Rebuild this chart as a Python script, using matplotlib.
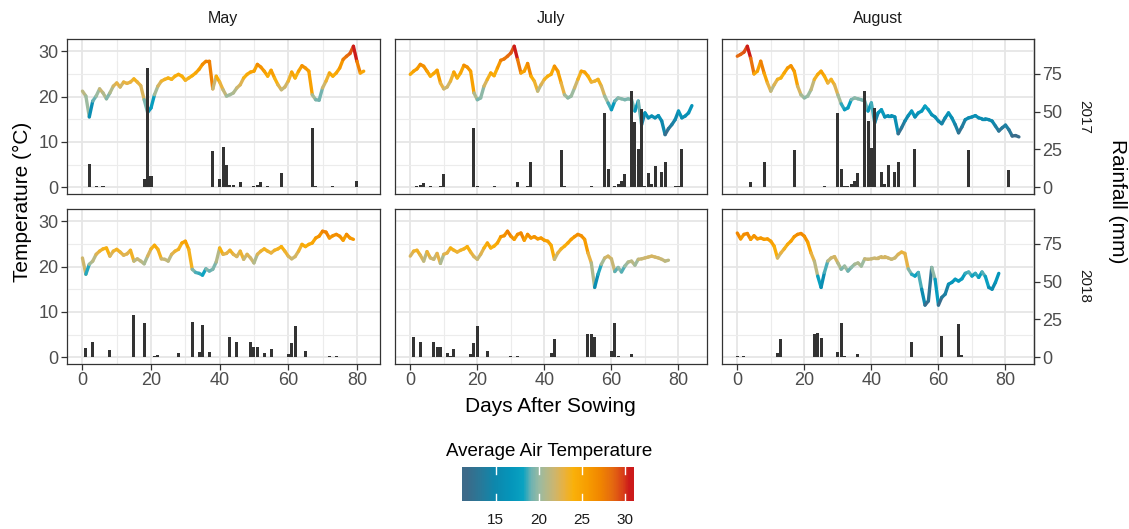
import numpy as np
import matplotlib
matplotlib.use("Agg")
import matplotlib.pyplot as plt
from matplotlib.collections import LineCollection
from matplotlib.colors import LinearSegmentedColormap, Normalize

plt.rcParams["font.family"] = ["Liberation Sans", "DejaVu Sans"]

months = ["May", "July", "August"]
years = ["2017", "2018"]

# daily average air temperature (deg C), day 0 = sowing
temp_may_2017 = [21.2, 20.1, 15.5, 19.0, 20.1, 21.7, 20.8, 19.5, 20.8, 22.3,
                 23.0, 22.1, 23.2, 22.9, 23.2, 23.9, 23.2, 22.4, 19.3, 16.5,
                 17.5, 20.4, 22.3, 23.4, 23.8, 24.1, 23.8, 24.5, 24.9, 24.5,
                 23.6, 24.1, 24.6, 25.2, 26.0, 27.1, 27.8, 27.8, 21.7, 24.5,
                 23.2, 21.5, 20.1, 20.4, 20.8, 21.9, 22.6, 24.1, 24.9, 25.4,
                 25.6, 27.1, 26.5, 25.6, 24.5, 25.8, 24.1, 22.6, 21.5, 22.1,
                 23.4, 25.4, 24.1, 25.6, 26.8, 26.3, 25.6, 20.4, 19.3, 19.2,
                 21.9, 23.4, 25.2, 24.5, 25.2, 26.3, 28.2, 28.9, 29.5, 31.1,
                 27.8, 25.2, 25.6]
temp_jul_2017 = [24.9, 25.6, 26.1, 27.1, 26.7, 25.6, 24.5, 25.1, 25.8, 23.0,
                 21.7, 22.1, 23.4, 25.4, 24.1, 25.2, 26.9, 26.5, 25.6, 20.8,
                 19.3, 19.7, 22.3, 23.8, 25.2, 24.6, 26.3, 28.0, 28.3, 28.9,
                 29.6, 31.1, 28.2, 25.2, 25.6, 27.3, 24.5, 23.4, 21.2, 22.6,
                 23.8, 24.5, 24.9, 26.7, 25.6, 23.0, 20.4, 19.7, 20.1, 21.9,
                 23.8, 25.6, 25.4, 24.5, 23.2, 23.4, 23.8, 22.3, 20.1, 18.6,
                 17.1, 19.0, 19.7, 19.5, 19.3, 19.5, 19.3, 16.8, 19.0, 13.8,
                 16.4, 15.3, 15.7, 15.3, 15.8, 14.6, 11.6, 12.9, 13.8, 14.9,
                 16.8, 15.3, 15.7, 16.4, 18.0]
temp_aug_2017 = [28.9, 29.3, 29.8, 31.1, 28.5, 25.0, 25.6, 27.8, 25.2, 23.0,
                 21.2, 22.6, 23.8, 24.1, 25.2, 26.3, 26.8, 25.6, 22.3, 20.4,
                 19.7, 20.1, 21.5, 23.8, 24.9, 25.6, 24.5, 23.0, 23.8, 22.6,
                 20.4, 18.4, 17.1, 17.5, 19.3, 19.7, 19.5, 19.3, 19.0, 16.8,
                 18.6, 14.2, 16.4, 17.1, 15.5, 15.8, 15.8, 15.5, 11.8, 13.1,
                 14.6, 15.8, 16.8, 15.5, 16.4, 16.8, 17.9, 17.1, 16.0, 15.5,
                 14.6, 14.0, 15.3, 16.4, 15.3, 13.8, 12.0, 13.3, 14.9, 15.3,
                 15.5, 15.8, 15.3, 15.1, 15.1, 14.9, 14.6, 13.5, 12.4, 13.1,
                 13.7, 12.7, 11.3, 11.4, 11.1]
temp_may_2018 = [21.9, 18.3, 20.5, 21.2, 22.7, 23.4, 23.9, 24.1, 22.3, 23.4,
                 23.8, 23.2, 22.5, 22.8, 23.6, 21.2, 21.7, 21.2, 20.6, 22.3,
                 23.9, 24.7, 23.8, 21.7, 21.6, 21.2, 22.7, 23.4, 23.8, 25.2,
                 25.6, 23.8, 19.4, 18.7, 18.5, 18.1, 19.5, 19.0, 19.4, 21.0,
                 24.1, 22.7, 22.9, 23.6, 22.7, 22.2, 23.4, 21.6, 22.7, 21.9,
                 20.8, 22.7, 23.4, 23.9, 23.4, 23.0, 23.6, 23.9, 24.4, 23.4,
                 22.3, 21.7, 22.2, 23.4, 24.9, 24.4, 24.9, 25.2, 26.3, 26.7,
                 27.8, 27.6, 26.3, 26.8, 27.1, 26.7, 25.8, 27.1, 26.3, 26.0]
temp_jul_2018 = [22.3, 23.4, 23.6, 22.5, 21.2, 23.3, 21.9, 21.6, 22.9, 20.7,
                 22.7, 23.0, 24.1, 23.6, 23.2, 23.6, 23.9, 24.4, 23.2, 22.2,
                 21.6, 22.7, 24.1, 25.2, 24.1, 24.5, 25.2, 26.6, 26.8, 27.8,
                 26.7, 26.0, 27.1, 27.4, 25.8, 27.1, 26.3, 26.6, 26.1, 26.3,
                 25.8, 25.6, 24.7, 21.6, 23.0, 23.9, 24.5, 25.2, 26.0, 26.6,
                 27.1, 26.8, 26.0, 23.0, 20.8, 15.4, 18.3, 20.5, 21.9, 22.3,
                 21.7, 18.9, 19.8, 18.8, 20.1, 21.0, 21.2, 20.3, 21.6, 21.7,
                 21.9, 22.1, 22.3, 22.1, 21.9, 21.6, 21.2, 21.4]
temp_aug_2018 = [27.4, 26.1, 27.1, 27.3, 26.0, 26.8, 26.1, 26.3, 26.0, 26.1,
                 25.6, 24.5, 21.9, 23.0, 23.9, 24.9, 25.6, 26.6, 27.1, 27.3,
                 26.7, 25.4, 23.0, 21.2, 17.9, 15.4, 18.7, 21.2, 21.9, 22.2,
                 20.8, 19.4, 20.1, 19.0, 19.8, 20.5, 20.8, 20.1, 21.7, 21.6,
                 21.7, 21.9, 21.9, 22.2, 22.2, 21.9, 21.6, 21.9, 22.7, 23.2,
                 22.9, 19.5, 18.3, 17.9, 18.7, 15.0, 11.5, 12.4, 19.8, 17.2,
                 11.5, 13.2, 13.9, 16.1, 16.5, 17.2, 16.8, 17.3, 18.5, 18.8,
                 17.9, 18.5, 17.6, 18.8, 17.8, 15.4, 15.0, 16.5, 18.5]

# daily rainfall (mm)
rain_days_may_2017 = [2, 4, 6, 18, 19, 20, 27, 38, 40, 41, 42, 43, 44, 46, 50, 51,
                      52, 54, 58, 67, 68, 73, 80]
rain_mm_may_2017 = [15.4, 0.5, 0.5, 5.5, 79.0, 7.7, 0.3, 24.0, 5.5, 26.3, 14.7, 1.5,
                    1.7, 3.3, 1.0, 1.5, 3.3, 1.0, 9.2, 39.5, 1.0, 0.5, 4.0]
rain_days_jul_2017 = [2, 3, 4, 6, 9, 10, 19, 20, 25, 32, 35, 36, 45, 46, 54, 58, 59,
                      61, 62, 63, 64, 66, 67, 68, 69, 70, 71, 72, 73, 75, 76, 79, 80, 81]
rain_mm_jul_2017 = [1.1, 1.5, 2.9, 0.9, 0.5, 8.8, 39.0, 0.5, 0.5, 3.5, 0.5, 16.4,
                    24.3, 0.5, 1.0, 49.0, 12.0, 0.5, 2.2, 4.0, 9.0, 64.0, 43.4, 25.2,
                    52.0, 0.5, 9.4, 1.8, 14.3, 9.9, 16.4, 0.5, 0.5, 25.2]
rain_days_aug_2017 = [4, 7, 8, 17, 26, 30, 31, 32, 33, 34, 35, 36, 38, 39, 40, 41,
                      43, 44, 45, 47, 48, 53, 63, 69, 72, 73, 74, 75, 76, 77, 81]
rain_mm_aug_2017 = [3.7, 0.4, 16.9, 24.6, 1.0, 49.3, 12.0, 0.5, 1.0, 2.2, 4.0, 9.2,
                    64.0, 43.9, 25.7, 52.6, 9.9, 2.2, 14.7, 9.9, 16.9, 25.2, 0.4,
                    24.8, 0.3, 0.3, 0.3, 0.3, 0.3, 0.3, 11.6]
rain_days_may_2018 = [1, 3, 8, 15, 16, 18, 21, 22, 28, 32, 34, 35, 37, 43, 45, 49,
                      50, 51, 53, 55, 60, 61, 62, 65, 72, 74]
rain_mm_may_2018 = [5.9, 9.9, 4.8, 27.9, 0.4, 22.4, 1.1, 1.5, 2.6, 23.0, 3.7, 21.3,
                    3.7, 13.2, 9.9, 10.3, 6.6, 6.6, 2.9, 5.5, 2.0, 9.2, 20.8, 3.9,
                    1.1, 1.1]
rain_days_jul_2018 = [1, 3, 6, 7, 8, 9, 11, 12, 13, 18, 19, 20, 23, 30, 32, 42, 43,
                      53, 54, 55, 60, 61, 62, 66, 67, 70, 75]
rain_mm_jul_2018 = [13.2, 9.9, 0.4, 10.3, 6.6, 6.6, 2.9, 1.0, 5.5, 2.0, 9.2, 20.8,
                    3.9, 1.1, 1.1, 2.9, 12.0, 15.4, 15.4, 13.2, 3.9, 22.4, 1.1, 2.0,
                    0.4, 0.3, 0.3]
rain_days_aug_2018 = [0, 2, 12, 13, 23, 24, 25, 30, 31, 32, 36, 37, 45, 52, 53, 61,
                      62, 66, 67, 76, 77, 78]
rain_mm_aug_2018 = [1.1, 0.5, 2.6, 12.0, 15.4, 15.8, 12.7, 3.7, 22.4, 1.1, 1.8, 0.4,
                    0.3, 9.9, 0.4, 13.8, 0.4, 21.9, 1.5, 0.3, 0.3, 0.3]

temps = {("2017", "May"): temp_may_2017, ("2017", "July"): temp_jul_2017,
         ("2017", "August"): temp_aug_2017, ("2018", "May"): temp_may_2018,
         ("2018", "July"): temp_jul_2018, ("2018", "August"): temp_aug_2018}
rains = {("2017", "May"): (rain_days_may_2017, rain_mm_may_2017),
         ("2017", "July"): (rain_days_jul_2017, rain_mm_jul_2017),
         ("2017", "August"): (rain_days_aug_2017, rain_mm_aug_2017),
         ("2018", "May"): (rain_days_may_2018, rain_mm_may_2018),
         ("2018", "July"): (rain_days_jul_2018, rain_mm_jul_2018),
         ("2018", "August"): (rain_days_aug_2018, rain_mm_aug_2018)}

RAIN_SCALE = 3.0  # mm per deg C on the secondary axis

# colour gradient for temperature
grad_temps = [11.0, 12.6, 14.5, 16.5, 18.0, 19.0, 20.0, 21.8, 23.0, 24.2, 26.0,
              27.5, 29.0, 30.3, 31.1]
grad_cols = ["#3c6a89", "#2a7898", "#0e88ad", "#0596bb", "#0aa3c2", "#6fb3b2",
             "#9bbba2", "#ccb670", "#e8b242", "#fab10a", "#f79c00", "#f18600",
             "#e56a10", "#d94018", "#cc1a1a"]

all_t = np.concatenate([np.array(v) for v in temps.values()])
vmin, vmax = all_t.min(), all_t.max()
pos = (np.array(grad_temps) - grad_temps[0]) / (grad_temps[-1] - grad_temps[0])
cmap = LinearSegmentedColormap.from_list("temp", list(zip(pos, grad_cols)))
norm = Normalize(vmin=vmin, vmax=vmax)

W, H = 1129, 529
fig = plt.figure(figsize=(W / 100, H / 100), dpi=100)


def px_axes(x0, y0, x1, y1):
    return fig.add_axes([x0 / W, 1 - y1 / H, (x1 - x0) / W, (y1 - y0) / H])


col_x = [(67, 379.5), (394.5, 707), (721.5, 1034)]
row_y = [(39, 194), (209, 364)]
xlims = [(-4.5, 86.6), (-4.7, 88.5), (-4.7, 88.5)]
ylim = (-1.5, 32.7)
tick_col = "#4d4d4d"
frame_col = "#333333"

for i, yr in enumerate(years):
    for j, mo in enumerate(months):
        ax = px_axes(col_x[j][0], row_y[i][0], col_x[j][1], row_y[i][1])
        ax.set_xlim(xlims[j])
        ax.set_ylim(ylim)
        ax.set_xticks([0, 20, 40, 60, 80])
        ax.set_xticks([10, 30, 50, 70], minor=True)
        ax.set_yticks([0, 10, 20, 30])
        ax.set_yticks([5, 15, 25], minor=True)
        ax.grid(which="major", color="#e6e6e6", lw=1.3)
        ax.grid(which="minor", color="#ececec", lw=0.8)
        ax.set_axisbelow(True)
        ax.tick_params(which="minor", length=0)
        ax.tick_params(which="major", length=4, width=0.9, color=frame_col,
                       labelsize=13, labelcolor=tick_col, pad=2)
        for s in ax.spines.values():
            s.set_color(frame_col)
            s.set_linewidth(0.9)
        if i == 0:
            ax.tick_params(axis="x", bottom=False, labelbottom=False)
        if j > 0:
            ax.tick_params(axis="y", left=False, labelleft=False)

        t = np.array(temps[(yr, mo)])
        d = np.arange(len(t))
        pts = np.column_stack([d, t])
        segs = np.stack([pts[:-1], pts[1:]], axis=1)
        lc = LineCollection(segs, cmap=cmap, norm=norm, linewidths=2.4,
                            capstyle="round", joinstyle="round", zorder=2)
        lc.set_array(t[:-1])
        ax.add_collection(lc)

        rd, rm = rains[(yr, mo)]
        ax.bar(rd, np.array(rm) / RAIN_SCALE, width=0.9, color="#333333", zorder=3)

        if j == 2:
            sec = ax.secondary_yaxis("right", functions=(lambda v: v * RAIN_SCALE,
                                                         lambda v: v / RAIN_SCALE))
            sec.set_yticks([0, 25, 50, 75])
            sec.tick_params(length=4, width=0.9, color=frame_col, labelsize=13,
                            labelcolor=tick_col, pad=2)
            sec.spines["right"].set_color(frame_col)
            sec.spines["right"].set_linewidth(0.9)
            fig.text(1084 / W, 1 - (row_y[i][0] + row_y[i][1]) / 2 / H, yr,
                     rotation=270, ha="center", va="center", fontsize=11,
                     color="#1a1a1a")
        if i == 0:
            fig.text((col_x[j][0] + col_x[j][1]) / 2 / W, 1 - 19 / H, mo,
                     ha="center", va="center", fontsize=11.5, color="#1a1a1a")

fig.text(22 / W, 1 - 201.5 / H, "Temperature (°C)", rotation=90, ha="center",
         va="center", fontsize=15)
fig.text(1118 / W, 1 - 201.5 / H, "Rainfall (mm)", rotation=270, ha="center",
         va="center", fontsize=15)
fig.text(550 / W, 1 - 407 / H, "Days After Sowing", ha="center", va="center",
         fontsize=15)

# colour bar legend
cax = px_axes(462, 467, 634, 501)
nbin = 20
vals = np.linspace(vmin, vmax, nbin)
cax.imshow(vals[np.newaxis, :], cmap=cmap, norm=norm, aspect="auto",
           extent=(vmin, vmax, 0, 1), interpolation="bilinear")
cax.set_xlim(vmin, vmax)
cax.set_ylim(0, 1)
for tv in [15, 20, 25, 30]:
    cax.plot([tv, tv], [0, 0.2], color="white", lw=1)
    cax.plot([tv, tv], [0.8, 1], color="white", lw=1)
cax.set_xticks([15, 20, 25, 30])
cax.set_yticks([])
cax.tick_params(axis="x", length=0, labelsize=11, labelcolor="#1a1a1a", pad=9)
for s in cax.spines.values():
    s.set_visible(False)
fig.text(549 / W, 1 - 451 / H, "Average Air Temperature", ha="center",
         va="center", fontsize=13.5)

fig.savefig("out.png", dpi=100)
